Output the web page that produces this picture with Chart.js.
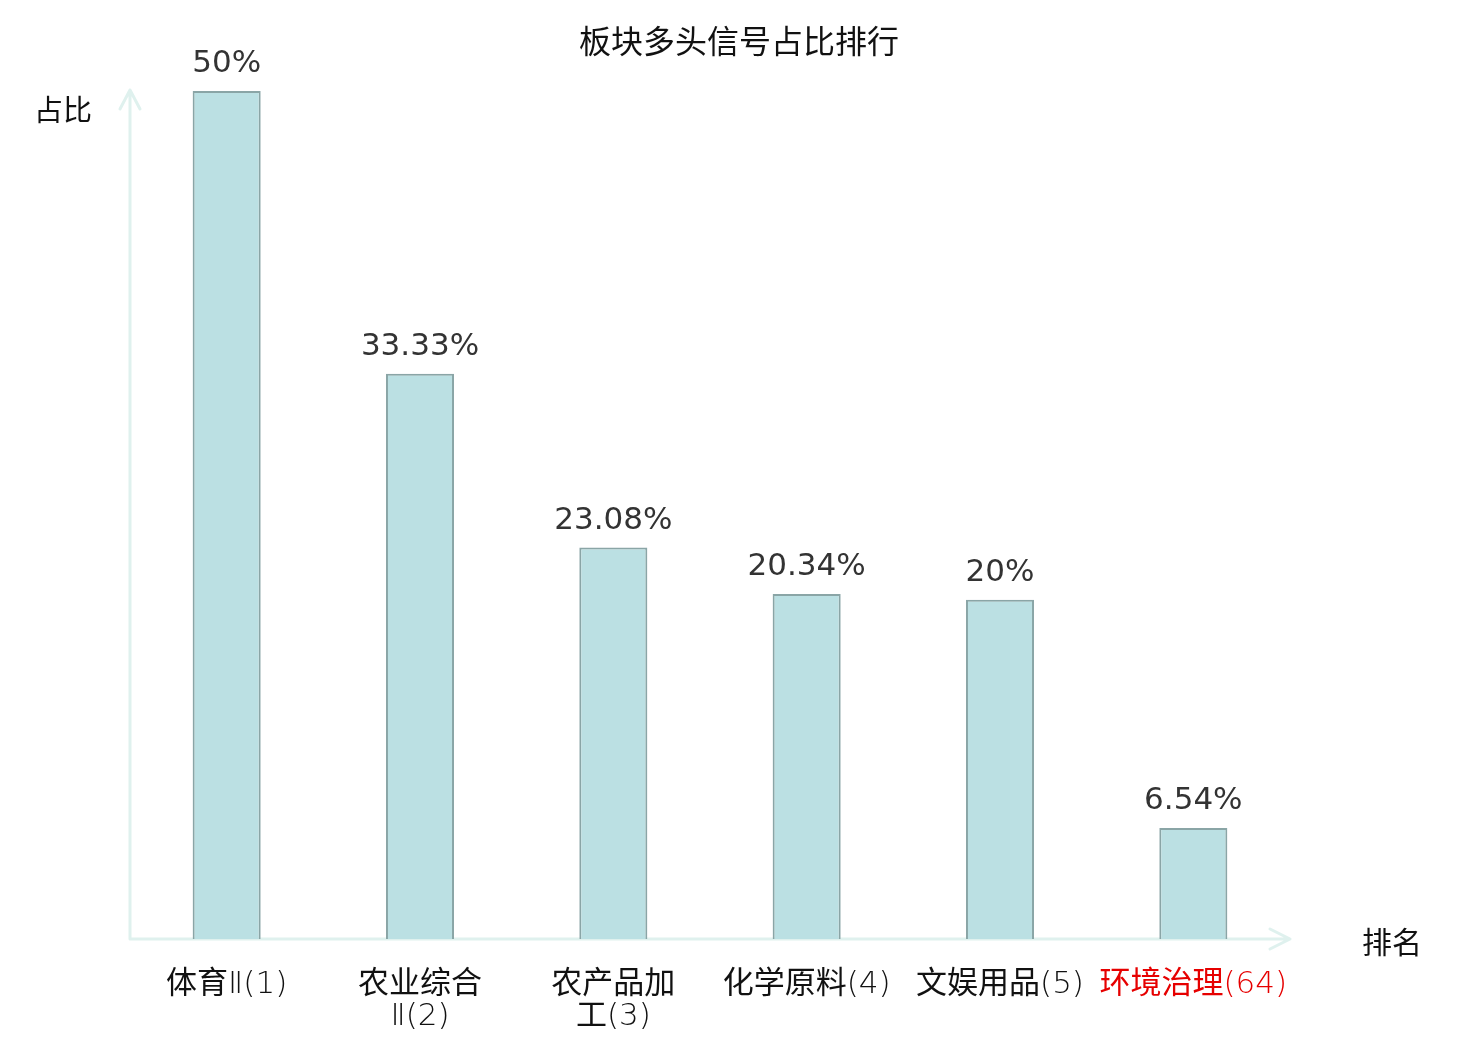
<!DOCTYPE html>
<html>
<head>
<meta charset="utf-8">
<script src="https://cdn.jsdelivr.net/npm/chart.js@4/dist/chart.umd.min.js"></script>
<style>
  html, body { margin: 0; padding: 0; background: #fff; }
  #wrap { width: 1480px; height: 1040px; }
</style>
</head>
<body>
<div id="wrap"><canvas id="rankChart" width="1480" height="1040"></canvas></div>
<script>
const categories = [
  ['体育Ⅱ(1)'],
  ['农业综合', 'Ⅱ(2)'],
  ['农产品加', '工(3)'],
  ['化学原料(4)'],
  ['文娱用品(5)'],
  ['环境治理(64)']
];
const shares = [50, 33.33, 23.08, 20.34, 20, 6.54];
const highlightIndex = 5;   // current sector, drawn in red

const chartTitle = '板块多头信号占比排行';
const yAxisName = '占比';
const xAxisName = '排名';

const axisColor = '#dff1ee';
const cjk = '"DejaVu Sans", "Noto Sans CJK SC", sans-serif';

// Han characters regular, the rest (Ⅱ, digits, brackets) thin
function drawMixed(ctx, text, cx, y) {
  const runs = text.match(/[\u4e00-\u9fff]+|[^\u4e00-\u9fff]+/g);
  const fonts = runs.map(r => /[\u4e00-\u9fff]/.test(r)
    ? '31px "Noto Sans CJK SC", sans-serif'
    : '200 31px "DejaVu Sans", sans-serif');
  let total = 0;
  const widths = runs.map((r, k) => {
    ctx.font = fonts[k];
    const w = ctx.measureText(r).width;
    total += w;
    return w;
  });
  let x = cx - total / 2;
  ctx.textAlign = 'left';
  runs.forEach((r, k) => {
    ctx.font = fonts[k];
    ctx.fillText(r, x, y);
    x += widths[k];
  });
  ctx.textAlign = 'center';
}

// axes with arrows, title, axis names, category labels, value labels
const decorPlugin = {
  id: 'decor',
  beforeDatasetsDraw(chart) {
    const { ctx, chartArea: a } = chart;
    ctx.save();
    ctx.strokeStyle = axisColor;
    ctx.lineWidth = 3;
    ctx.lineCap = 'round';
    ctx.lineJoin = 'round';
    ctx.beginPath();
    ctx.moveTo(a.left, a.bottom);
    ctx.lineTo(a.left, a.top - 1);
    ctx.moveTo(a.left - 10, a.top + 18);
    ctx.lineTo(a.left, a.top - 1);
    ctx.lineTo(a.left + 10, a.top + 18);
    ctx.moveTo(a.left, a.bottom);
    ctx.lineTo(a.right, a.bottom);
    ctx.moveTo(a.right - 20, a.bottom - 10);
    ctx.lineTo(a.right, a.bottom);
    ctx.lineTo(a.right - 20, a.bottom + 10);
    ctx.stroke();
    ctx.restore();
  },
  afterDatasetsDraw(chart) {
    const { ctx, scales } = chart;
    ctx.save();
    ctx.textAlign = 'center';
    ctx.textBaseline = 'middle';

    ctx.fillStyle = '#111';
    ctx.font = '32px ' + cjk;
    ctx.fillText(chartTitle, 739, 45);
    ctx.font = '29px ' + cjk;
    ctx.fillText(yAxisName, 63, 113);
    ctx.font = '30px ' + cjk;
    ctx.fillText(xAxisName, 1392, 945);

    // category labels
    ctx.textBaseline = 'alphabetic';
    categories.forEach((lines, i) => {
      const x = scales.x.getPixelForValue(i);
      ctx.fillStyle = i === highlightIndex ? '#e60000' : '#111';
      lines.forEach((line, j) => drawMixed(ctx, line, x, 993 + j * 32));
    });

    // value labels above bars
    ctx.fillStyle = '#333';
    ctx.font = '31px "DejaVu Sans", sans-serif';
    chart.getDatasetMeta(0).data.forEach((bar, i) => {
      ctx.fillText(shares[i] + '%', bar.x, bar.y - 19);
    });
    ctx.restore();
  }
};

new Chart(document.getElementById('rankChart').getContext('2d'), {
  type: 'bar',
  data: {
    labels: categories.map(c => c.join('')),
    datasets: [{
      data: shares,
      backgroundColor: '#bbe0e3',
      borderColor: '#8aa5a6',
      borderWidth: 2,
      categoryPercentage: 1,
      barPercentage: 0.352
    }]
  },
  options: {
    responsive: false,
    animation: false,
    devicePixelRatio: 1,
    layout: { padding: { left: 130, right: 190, top: 91, bottom: 101 } },
    scales: {
      x: { display: false },
      y: { display: false, min: 0, max: 50 }
    },
    plugins: {
      legend: { display: false },
      tooltip: { enabled: false }
    }
  },
  plugins: [decorPlugin]
});
</script>
</body>
</html>
